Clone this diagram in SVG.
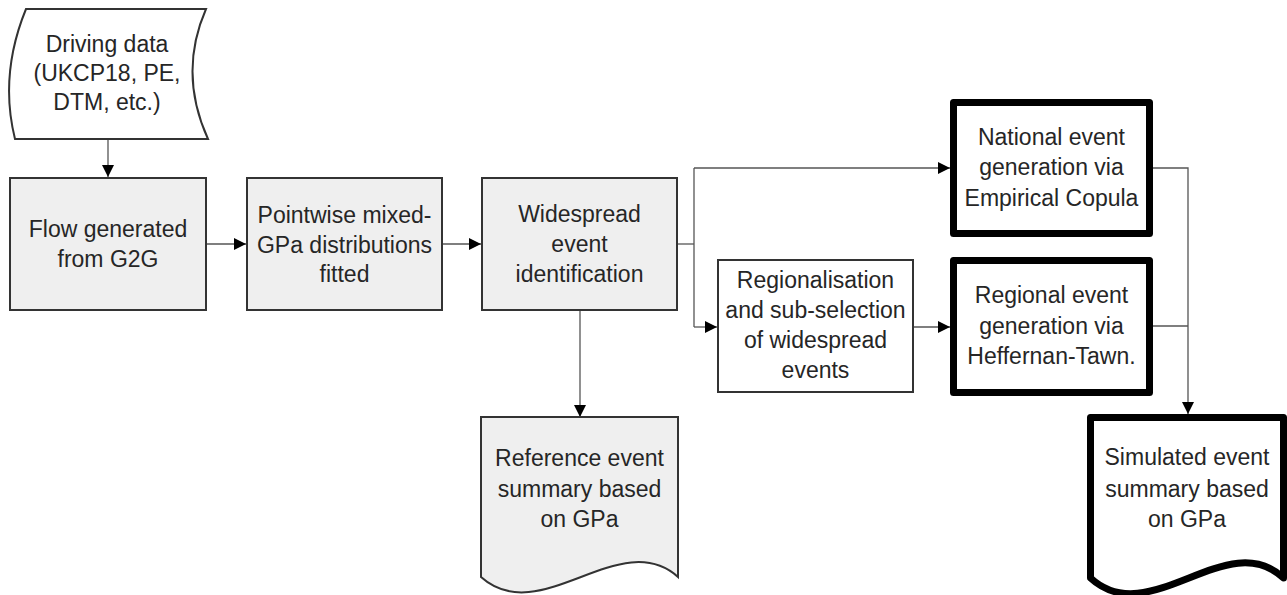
<svg xmlns="http://www.w3.org/2000/svg" width="1287" height="595" viewBox="0 0 1287 595">
  <style>
    text { font-family: "Liberation Sans", Arial, sans-serif; font-size: 23px; fill: #262626; text-anchor: middle; }
    .gray { fill: #efefef; stroke: #333; stroke-width: 2; }
    .plain { fill: #ffffff; stroke: #333; stroke-width: 2; }
    .bold { fill: #ffffff; stroke: #000; stroke-width: 7; stroke-linejoin: round; }
    .conn { fill: none; stroke: #555; stroke-width: 1.3; }
  </style>
  <defs>
    <marker id="arr" markerUnits="userSpaceOnUse" markerWidth="13" markerHeight="12" refX="12" refY="6" orient="auto">
      <path d="M0,0 L12,6 L0,12 Z" fill="#000"/>
    </marker>
  </defs>
  <rect width="1287" height="595" fill="#ffffff"/>

  <g id="connectors">
    <path class="conn" d="M108,139 V177" marker-end="url(#arr)"/>
    <path class="conn" d="M207,244 H246" marker-end="url(#arr)"/>
    <path class="conn" d="M443,244 H481" marker-end="url(#arr)"/>
    <path class="conn" d="M580,311 V417" marker-end="url(#arr)"/>
    <path class="conn" d="M678,244 H694"/>
    <path class="conn" d="M694,168 V327"/>
    <path class="conn" d="M694,168 H950" marker-end="url(#arr)"/>
    <path class="conn" d="M694,327 H717" marker-end="url(#arr)"/>
    <path class="conn" d="M914,327 H950" marker-end="url(#arr)"/>
    <path class="conn" d="M1153,168 H1188 V414" marker-end="url(#arr)"/>
    <path class="conn" d="M1153,326 H1188"/>
  </g>

  <g id="driving">
    <path class="plain" d="M26,9 H206 Q178,73 208,139 H15 Q-1,75 26,9 Z"/>
    <text x="107" y="52">Driving data</text>
    <text x="107" y="81">(UKCP18, PE,</text>
    <text x="107" y="110">DTM, etc.)</text>
  </g>

  <g id="flow">
    <rect class="gray" x="10" y="178" width="196" height="132"/>
    <text x="108" y="237">Flow generated</text>
    <text x="108" y="267">from G2G</text>
  </g>

  <g id="pointwise">
    <rect class="gray" x="247" y="178" width="195" height="132"/>
    <text x="344.5" y="223">Pointwise mixed-</text>
    <text x="344.5" y="253">GPa distributions</text>
    <text x="344.5" y="282">fitted</text>
  </g>

  <g id="widespread">
    <rect class="gray" x="482" y="178" width="195" height="132"/>
    <text x="579.5" y="222">Widespread</text>
    <text x="579.5" y="252">event</text>
    <text x="579.5" y="282">identification</text>
  </g>

  <g id="reference">
    <path class="gray" d="M481,417 H678 V577 C620,525 540,630 481,577 Z"/>
    <text x="579.5" y="466">Reference event</text>
    <text x="579.5" y="497">summary based</text>
    <text x="579.5" y="527">on GPa</text>
  </g>

  <g id="regionalisation">
    <rect class="plain" x="718" y="260" width="195" height="132"/>
    <text x="815.5" y="288">Regionalisation</text>
    <text x="815.5" y="318">and sub-selection</text>
    <text x="815.5" y="348">of widespread</text>
    <text x="815.5" y="378">events</text>
  </g>

  <g id="national">
    <rect class="bold" x="953.5" y="102.5" width="196" height="131"/>
    <text x="1051.5" y="145">National event</text>
    <text x="1051.5" y="175">generation via</text>
    <text x="1051.5" y="206">Empirical Copula</text>
  </g>

  <g id="regional">
    <rect class="bold" x="953.5" y="260.5" width="196" height="132"/>
    <text x="1051.5" y="303">Regional event</text>
    <text x="1051.5" y="334">generation via</text>
    <text x="1051.5" y="364">Heffernan-Tawn.</text>
  </g>

  <g id="simulated">
    <path class="bold" d="M1090.5,417.5 H1283.5 V578 C1227,525 1149,632 1090.5,578 Z"/>
    <text x="1187" y="465">Simulated event</text>
    <text x="1187" y="497">summary based</text>
    <text x="1187" y="527">on GPa</text>
  </g>
</svg>
